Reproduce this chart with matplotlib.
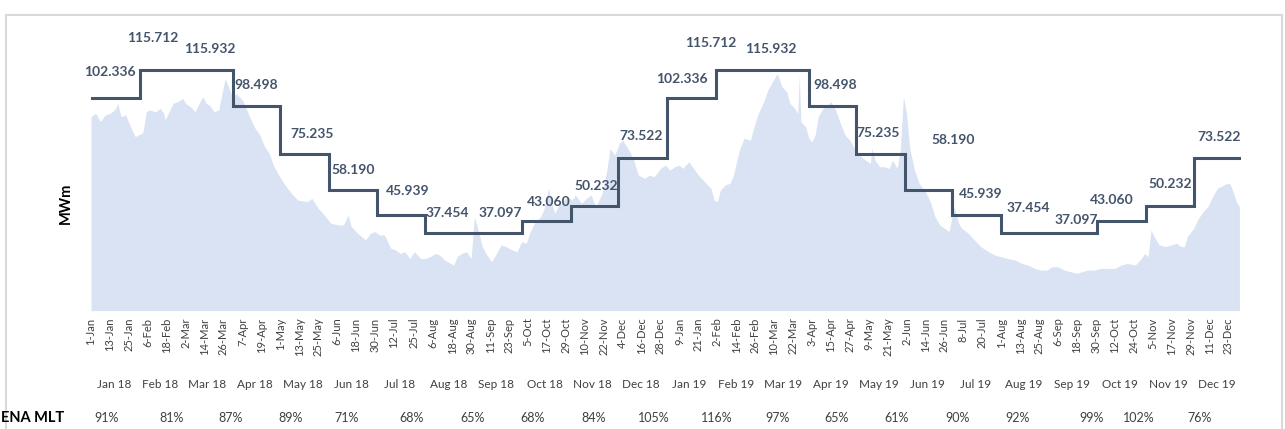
import numpy as np
import pandas as pd
import matplotlib
matplotlib.use("Agg")
import matplotlib.pyplot as plt
from matplotlib.patches import Rectangle

plt.rcParams['font.family'] = ['Lato', 'DejaVu Sans']

W, H = 1285, 429
start = pd.Timestamp('2018-01-01')

# monthly MLT (MWm), same set of values for 2018 and 2019
mlt_2018 = [102.336, 115.712, 115.932, 98.498, 75.235, 58.190,
            45.939, 37.454, 37.097, 43.060, 50.232, 73.522]
mlt_month = mlt_2018 + mlt_2018

month_names = ['Jan 18', 'Feb 18', 'Mar 18', 'Apr 18', 'May 18', 'Jun 18',
               'Jul 18', 'Aug 18', 'Sep 18', 'Oct 18', 'Nov 18', 'Dec 18',
               'Jan 19', 'Feb 19', 'Mar 19', 'Apr 19', 'May 19', 'Jun 19',
               'Jul 19', 'Aug 19', 'Sep 19', 'Oct 19', 'Nov 19', 'Dec 19']

ena_mlt_pct = ['91%', '81%', '87%', '89%', '71%', '68%', '65%', '68%', '84%',
               '105%', '116%', '97%', '65%', '61%', '90%', '92%', '99%',
               '102%', '76%']

# daily ENA: days since 1-Jan-2018 and MWm
ena_day = [0, 3, 6, 9, 12, 15, 17, 19, 22, 25, 28, 30, 32, 33, 35, 37, 41, 44,
           46, 47, 50, 52, 55, 58, 60, 63, 66, 69, 71, 73, 75, 78, 81, 82, 84,
           85, 88, 90, 92, 96, 98, 100, 104, 107, 110, 113, 116, 119, 123, 127,
           131, 137, 140, 144, 147, 152, 157, 160, 163, 165, 169, 174, 177, 180,
           183, 186, 190, 193, 196, 199, 202, 205, 209, 212, 215, 218, 221, 224,
           228, 230, 232, 235, 238, 241, 243, 246, 248, 251, 254, 257, 260, 263,
           267, 270, 273, 276, 278, 281, 285, 287, 290, 292, 294, 296, 298, 302,
           305, 307, 311, 314, 317, 320, 324, 327, 329, 332, 335, 337, 341, 344,
           347, 351, 354, 357, 361, 364, 367, 370, 373, 375, 379, 382, 385, 388,
           391, 393, 395, 397, 399, 402, 405, 407, 409, 411, 414, 418, 420, 423,
           426, 429, 432, 435, 438, 441, 443, 446, 448, 449, 450, 453, 455, 457,
           459, 461, 464, 467, 469, 472, 475, 478, 481, 484, 487, 491, 494, 495,
           497, 500, 503, 506, 508, 511, 513, 515, 517, 519, 522, 525, 529, 532,
           535, 538, 541, 544, 547, 550, 552, 556, 560, 564, 569, 573, 577, 581,
           586, 590, 594, 598, 602, 606, 609, 613, 617, 621, 625, 628, 632, 636,
           640, 645, 649, 653, 657, 662, 665, 668, 670, 672, 674, 677, 681, 685,
           688, 691, 693, 695, 699, 702, 705, 708, 711, 714, 718, 720, 722, 724,
           726, 728]
ena_val = [93.3, 94.9, 90.9, 94.1, 94.9, 96.5, 99.7, 93.3, 94.1, 88.5, 83.7, 84.5,
           85.2, 86.0, 95.7, 96.5, 95.7, 97.3, 94.9, 91.7, 96.5, 99.7, 100.5, 102.1,
           99.7, 98.1, 95.7, 100.5, 102.9, 99.7, 98.9, 95.7, 96.5, 100.5, 107.7,
           111.7, 106.1, 102.1, 104.5, 101.3, 98.1, 94.1, 87.7, 84.5, 78.9, 75.6,
           69.2, 65.2, 60.4, 56.4, 53.2, 52.4, 54.0, 49.2, 46.8, 42.0, 41.2, 41.2,
           46.0, 40.4, 37.2, 34.0, 37.2, 38.0, 36.4, 36.4, 30.0, 29.2, 27.5, 28.3,
           25.1, 28.3, 25.1, 25.1, 25.9, 27.5, 26.7, 24.3, 22.7, 21.9, 25.9, 27.5,
           28.3, 25.1, 45.0, 37.2, 30.8, 26.7, 23.5, 27.5, 31.6, 30.8, 29.2, 28.3,
           33.2, 32.4, 37.2, 42.0, 45.2, 48.4, 58.8, 51.6, 46.8, 50.0, 51.6, 54.8,
           53.2, 55.6, 51.6, 54.0, 55.6, 50.0, 56.4, 67.6, 78.0, 74.8, 80.5, 82.0,
           77.2, 72.4, 65.2, 63.6, 65.2, 64.4, 68.4, 70.0, 67.6, 69.2, 70.0, 68.4,
           71.6, 68.4, 65.2, 62.8, 60.4, 58.8, 53.2, 52.4, 58.0, 60.4, 61.2, 64.4,
           70.8, 77.2, 82.9, 82.0, 87.7, 94.9, 99.7, 106.1, 110.1, 114.1, 107.7,
           105.3, 99.7, 97.3, 94.9, 113.3, 90.9, 88.5, 82.9, 81.2, 84.5, 93.3, 97.3,
           98.9, 100.5, 96.5, 90.1, 84.5, 82.0, 78.0, 74.8, 72.4, 70.8, 78.0, 72.4,
           69.2, 69.2, 68.4, 72.4, 68.4, 77.2, 102.9, 94.9, 78.0, 67.6, 61.2, 57.2,
           52.4, 45.2, 41.2, 39.6, 38.0, 50.0, 42.0, 39.6, 37.2, 34.0, 30.8, 28.3,
           26.7, 25.9, 25.1, 24.3, 22.7, 21.9, 20.3, 19.5, 19.5, 21.1, 21.1, 19.5,
           18.7, 17.9, 18.7, 19.5, 19.5, 20.3, 20.3, 20.3, 21.9, 22.7, 21.9, 24.3,
           27.5, 25.9, 38.8, 35.6, 31.6, 30.8, 31.6, 32.4, 30.8, 30.8, 35.6, 39.6,
           44.4, 47.6, 50.0, 54.8, 58.8, 60.4, 61.2, 60.9, 57.2, 52.4, 50.0]

ticks_2018 = ['1-Jan', '13-Jan', '25-Jan', '6-Feb', '18-Feb', '2-Mar', '14-Mar',
              '26-Mar', '7-Apr', '19-Apr', '1-May', '13-May', '25-May', '6-Jun',
              '18-Jun', '30-Jun', '12-Jul', '25-Jul', '6-Aug', '18-Aug', '30-Aug',
              '11-Sep', '23-Sep', '5-Oct', '17-Oct', '29-Oct', '10-Nov', '22-Nov',
              '4-Dec', '16-Dec', '28-Dec']
ticks_2019 = ['9-Jan', '21-Jan', '2-Feb', '14-Feb', '26-Feb', '10-Mar', '22-Mar',
              '3-Apr', '15-Apr', '27-Apr', '9-May', '21-May', '2-Jun', '14-Jun',
              '26-Jun', '8-Jul', '20-Jul', '1-Aug', '13-Aug', '25-Aug', '6-Sep',
              '18-Sep', '30-Sep', '12-Oct', '24-Oct', '5-Nov', '17-Nov', '29-Nov',
              '11-Dec', '23-Dec']

# layout: value-label nudges (pixels) and the ENA MLT table columns
lab_dx = [-6, -9, 1, 0, 7, 0, 7, -3, 2, 3, 2, -1,
          -9, -27, -13, 3, -2, 25, 4, 3, 2, -10, 0, 1]
lab_dy = [26, 32, 21, 21, 20, 20, 24, 20, 20, 19, 20, 22,
          19, 27, 21, 21, 21, 50, 21, 25, 13, 21, 22, 21]
pct_px = [107, 172, 231, 291, 347, 412, 473, 533, 594, 654, 717, 778,
          837, 897, 958, 1018, 1092, 1139, 1200]

c_line = '#44546A'
c_area = '#DAE3F3'
c_text = '#404040'

fig = plt.figure(figsize=(W / 100, H / 100), dpi=100)
ax_bottom, ax_h = 310.6, 291
ax = fig.add_axes([91 / W, 1 - ax_bottom / H, 1150 / W, ax_h / H])

ax.fill_between(ena_day, ena_val, 0, color=c_area, lw=0)

mstart = pd.date_range('2018-01-01', periods=24, freq='MS')
mdays = list((mstart - start).days) + [(pd.Timestamp('2020-01-01') - start).days]
step_x = mdays[:-1] + [729]
step_y = mlt_month + [mlt_month[-1]]
ax.plot(step_x, step_y, drawstyle='steps-post', color=c_line, lw=2.2,
        solid_joinstyle='miter')

mids = [(mdays[i] + mdays[i + 1]) / 2 for i in range(24)]
for i, v in enumerate(mlt_month):
    ax.annotate(f'{v:.3f}', xy=(mids[i], v), xytext=(lab_dx[i], lab_dy[i]),
                textcoords='offset pixels', ha='center', va='center',
                fontsize=10, fontweight='bold', color=c_line)

tick_dates = [pd.to_datetime(t + '-2018', format='%d-%b-%Y') for t in ticks_2018] + \
             [pd.to_datetime(t + '-2019', format='%d-%b-%Y') for t in ticks_2019]
tick_days = [(d - start).days for d in tick_dates]
ax.set_xticks(tick_days)
ax.set_xticklabels(ticks_2018 + ticks_2019, rotation=90, fontsize=8, color=c_text)
ax.tick_params(axis='x', length=0, pad=5)
ax.set_yticks([])
ax.set_xlim(0, 729)
ax.set_ylim(0, 140)
for s in ax.spines.values():
    s.set_visible(False)

# month row under the tick labels, centred on each month
row_y = (ax_bottom - 385) / ax_h
for m, lab in zip(mids, month_names):
    ax.text(m - 1, row_y, lab, transform=ax.get_xaxis_transform(),
            ha='center', va='center', fontsize=8.5, color=c_text, clip_on=False)

fig.text(66 / W, 1 - 203 / H, 'MWm', rotation=90, ha='center', va='center',
         fontsize=10.5, fontweight='bold', color='black')

fig.text(1 / W, 1 - 418 / H, 'ENA MLT', ha='left', va='center',
         fontsize=10.5, fontweight='bold', color='black')
for px, lab in zip(pct_px, ena_mlt_pct):
    fig.text(px / W, 1 - 418 / H, lab, ha='center', va='center',
             fontsize=9, color=c_text)

fig.add_artist(Rectangle((6 / W, -0.1), 1276 / W, 1 - 15 / H + 0.1,
                         transform=fig.transFigure, fill=False,
                         ec='#D9D9D9', lw=1.5))

fig.savefig('out.png', dpi=100)
